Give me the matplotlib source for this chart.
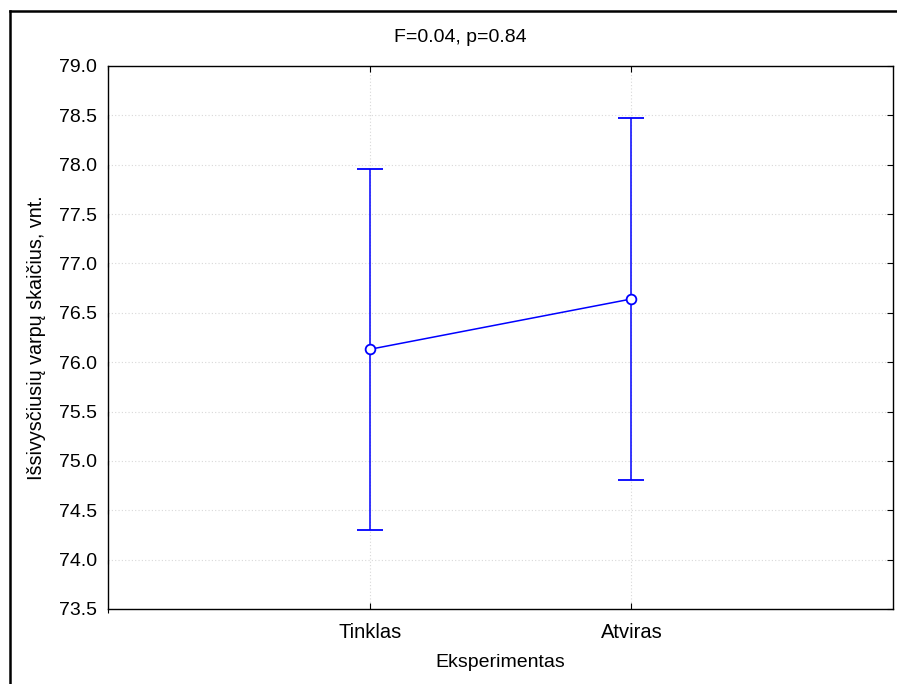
import matplotlib.pyplot as plt
from matplotlib.lines import Line2D

# data
groups = ["Tinklas", "Atviras"]
means = [76.13, 76.64]
upper = [77.96, 78.47]
lower = [74.30, 74.81]
yticks = [73.5, 74.0, 74.5, 75.0, 75.5, 76.0, 76.5, 77.0, 77.5, 78.0, 78.5, 79.0]

plt.rcParams["font.family"] = ["Liberation Sans", "DejaVu Sans"]

fig = plt.figure(figsize=(8.97, 6.84), dpi=100)
ax = fig.add_axes([108 / 897, 1 - 609 / 684, (893 - 108) / 897, (609 - 66) / 684])

x = list(range(len(groups)))
err_lo = [m - l for m, l in zip(means, lower)]
err_hi = [u - m for m, u in zip(means, upper)]

ax.errorbar(x, means, yerr=[err_lo, err_hi], color="#0000ff", lw=1.1,
            capsize=9.4, capthick=1.4, marker="o", markersize=7,
            markerfacecolor="white", markeredgecolor="#0000ff",
            markeredgewidth=1.3, zorder=3)

ax.set_xlim(-1, 2)
ax.set_ylim(73.5, 79.0)
ax.set_xticks(x)
ax.set_xticklabels(groups)
ax.set_yticks(yticks)
ax.set_yticklabels([f"{v:.1f}" for v in yticks])

ax.grid(True, color="#d8d8d8", linestyle=(0, (1, 2)), lw=0.8)
for s in ax.spines.values():
    s.set_linewidth(1.0)

ax.tick_params(axis="y", right=True, direction="in", length=4, labelsize=14, pad=8)
for t in ax.yaxis.get_major_ticks():
    t.tick1line.set_marker(3)  # left tick pointing out
    t.tick1line.set_markersize(3)
    t.tick2line.set_markersize(4)
ax.tick_params(axis="x", top=True, direction="in", length=4, labelsize=14.5, pad=10)

ax.set_xlabel("Eksperimentas", fontsize=14, labelpad=9)
ax.set_ylabel("Išsivysčiusių varpų skaičius, vnt.", fontsize=14.2, labelpad=9)
fig.text(460 / 897, 1 - 37 / 684, "F=0.04, p=0.84", ha="center", va="center", fontsize=14)

# outer frame (left and top edges visible)
fig.add_artist(Line2D([10 / 897, 10 / 897], [0, 1 - 11 / 684], color="black", lw=1.8,
                      transform=fig.transFigure))
fig.add_artist(Line2D([10 / 897, 1], [1 - 11 / 684, 1 - 11 / 684], color="black", lw=1.8,
                      transform=fig.transFigure))

fig.savefig("out.png", dpi=100)
